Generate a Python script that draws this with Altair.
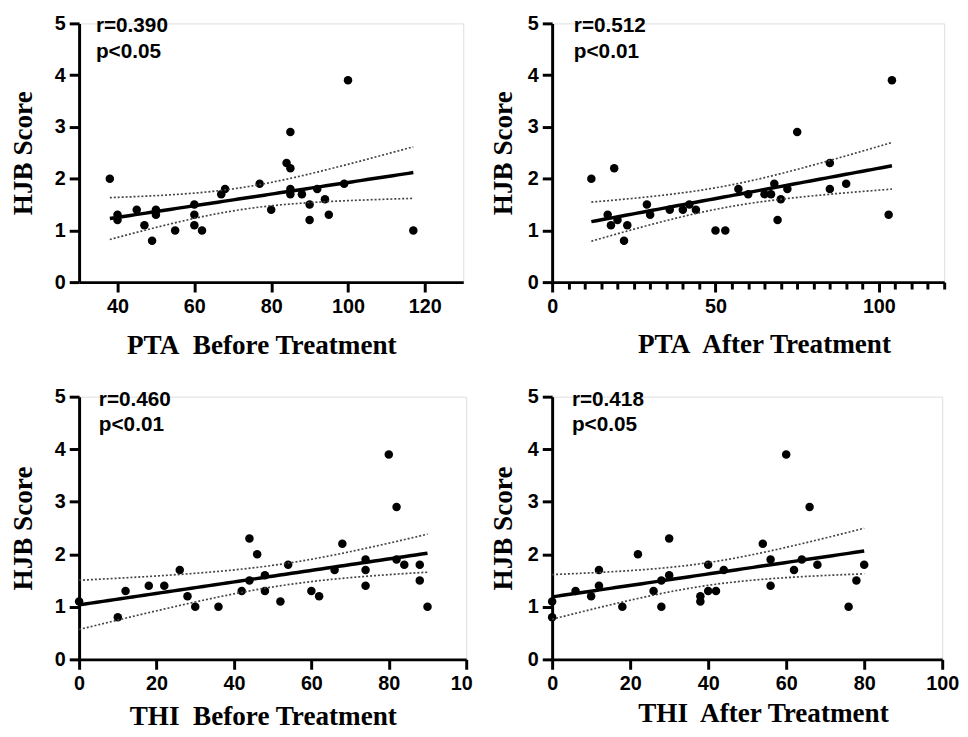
import numpy as np
import pandas as pd
import altair as alt

# ---------------- data ----------------
pta_before_x = [38, 40, 40, 45, 47, 49, 50, 50, 55, 60, 60, 60, 62, 67, 68, 77, 80, 84, 85, 85, 85, 85, 88, 90, 90, 92, 94, 95, 99, 100, 117]
pta_before_y = [2.0, 1.3, 1.2, 1.4, 1.1, 0.8, 1.4, 1.3, 1.0, 1.5, 1.3, 1.1, 1.0, 1.7, 1.8, 1.9, 1.4, 2.3, 2.2, 2.9, 1.8, 1.7, 1.7, 1.5, 1.2, 1.8, 1.6, 1.3, 1.9, 3.9, 1.0]

pta_after_x = [12, 17, 18, 19, 20, 22, 23, 29, 30, 36, 40, 42, 44, 50, 53, 57, 60, 65, 67, 68, 69, 70, 72, 75, 85, 85, 90, 103, 104]
pta_after_y = [2.0, 1.3, 1.1, 2.2, 1.2, 0.8, 1.1, 1.5, 1.3, 1.4, 1.4, 1.5, 1.4, 1.0, 1.0, 1.8, 1.7, 1.7, 1.7, 1.9, 1.2, 1.6, 1.8, 2.9, 2.3, 1.8, 1.9, 1.3, 3.9]

thi_before_x = [0, 10, 12, 18, 22, 26, 28, 30, 36, 42, 44, 44, 46, 48, 48, 52, 54, 60, 62, 66, 68, 74, 74, 74, 80, 82, 82, 84, 88, 88, 90]
thi_before_y = [1.1, 0.8, 1.3, 1.4, 1.4, 1.7, 1.2, 1.0, 1.0, 1.3, 2.3, 1.5, 2.0, 1.6, 1.3, 1.1, 1.8, 1.3, 1.2, 1.7, 2.2, 1.9, 1.7, 1.4, 3.9, 2.9, 1.9, 1.8, 1.8, 1.5, 1.0]

thi_after_x = [0, 0, 6, 10, 12, 12, 18, 22, 26, 28, 28, 30, 30, 38, 38, 40, 40, 42, 44, 54, 56, 56, 60, 62, 64, 66, 68, 76, 78, 80]
thi_after_y = [1.1, 0.8, 1.3, 1.2, 1.7, 1.4, 1.0, 2.0, 1.3, 1.5, 1.0, 2.3, 1.6, 1.2, 1.1, 1.8, 1.3, 1.3, 1.7, 2.2, 1.9, 1.4, 3.9, 1.7, 1.9, 2.9, 1.8, 1.0, 1.5, 1.8]

x_titles = ["PTA\u00a0 Before Treatment", "PTA\u00a0 After Treatment",
            "THI\u00a0 Before Treatment", "THI\u00a0 After Treatment"]
r_labels = ["r=0.390", "r=0.512", "r=0.460", "r=0.418"]
p_labels = ["p<0.05", "p<0.01", "p<0.01", "p<0.05"]
y_title = "HJB Score"
y_ticks = [0, 1, 2, 3, 4, 5]


def t975(df):
    z = 1.959964
    return (z + (z**3 + z) / (4 * df) + (5 * z**5 + 16 * z**3 + 3 * z) / (96 * df**2)
            + (3 * z**7 + 19 * z**5 + 17 * z**3 - 15 * z) / (384 * df**3))


def fit(xv, yv):
    x = np.asarray(xv, float)
    y = np.asarray(yv, float)
    n = len(x)
    b, a = np.polyfit(x, y, 1)
    res = y - (a + b * x)
    s = np.sqrt((res**2).sum() / (n - 2))
    xm = x.mean()
    sxx = ((x - xm) ** 2).sum()
    xs = np.linspace(x.min(), x.max(), 60)
    yh = a + b * xs
    se = s * np.sqrt(1.0 / n + (xs - xm) ** 2 / sxx)
    t = t975(n - 2)
    return pd.DataFrame({"x": xs, "fit": yh, "lo": yh - t * se, "hi": yh + t * se})


LABEL_FONT = "Liberation Sans"
TITLE_FONT = "Liberation Serif"


def panel(xv, yv, xdomain, xvalues, xtitle, rlab, plab, width, height,
          ytitle_pad, xtitle_pad, xtitle_shift, ann_x=20, tick_size=10, label_expr=None,
          label_offset=None):
    pts = pd.DataFrame({"x": xv, "y": yv})
    fd = fit(xv, yv)
    xs = alt.Scale(domain=xdomain, nice=False, zero=False)
    ys = alt.Scale(domain=[0, 5], nice=False, zero=True)
    xaxis_kw = dict(
        values=xvalues, title=xtitle, grid=False,
        titleFont=TITLE_FONT, titleFontSize=27.5, titleFontWeight="bold", titleColor="black",
        titlePadding=xtitle_pad, titleX=width / 2 + xtitle_shift,
        labelFont=LABEL_FONT, labelFontSize=20, labelFontWeight="bold", labelColor="black",
        labelPadding=5, labelFlush=False, labelOverlap=False,
        tickSize=tick_size, tickWidth=3, tickColor="black",
        domainWidth=3, domainColor="black",
    )
    if label_expr:
        xaxis_kw["labelExpr"] = label_expr
    if label_offset is not None:
        xaxis_kw["labelOffset"] = label_offset
    xaxis = alt.Axis(**xaxis_kw)
    yaxis = alt.Axis(
        values=y_ticks, title=y_title, grid=False,
        titleFont=TITLE_FONT, titleFontSize=27.5, titleFontWeight="bold", titleColor="black",
        titlePadding=ytitle_pad,
        labelFont=LABEL_FONT, labelFontSize=20, labelFontWeight="bold", labelColor="black",
        labelPadding=4, labelFlush=False,
        tickSize=10, tickWidth=3, tickColor="black",
        domainWidth=3, domainColor="black",
    )
    X = alt.X("x:Q", scale=xs, axis=xaxis)
    points = alt.Chart(pts).mark_circle(size=74, color="black", opacity=1).encode(
        x=X, y=alt.Y("y:Q", scale=ys, axis=yaxis))
    hi = alt.Chart(fd).mark_line(color="#444", strokeWidth=1.7, strokeDash=[2, 2]).encode(
        x=X, y=alt.Y("hi:Q", scale=ys, axis=yaxis))
    lo = alt.Chart(fd).mark_line(color="#444", strokeWidth=1.7, strokeDash=[2, 2]).encode(
        x=X, y=alt.Y("lo:Q", scale=ys, axis=yaxis))
    line = alt.Chart(fd).mark_line(color="black", strokeWidth=3.5).encode(
        x=X, y=alt.Y("fit:Q", scale=ys, axis=yaxis))
    ann = alt.Chart(pd.DataFrame({"t": [rlab + "\n" + plab]})).mark_text(
        align="left", baseline="alphabetic", font=LABEL_FONT, fontSize=21,
        fontWeight="bold", color="black", lineBreak="\n", lineHeight=26,
    ).encode(text="t:N", x=alt.value(ann_x), y=alt.value(9))
    return alt.layer(points, hi, lo, line, ann).properties(width=width, height=height)


p1 = panel(pta_before_x, pta_before_y, [30, 130], [40, 60, 80, 100, 120],
           x_titles[0], r_labels[0], p_labels[0], 389, 262,
           ytitle_pad=17, xtitle_pad=15, xtitle_shift=-10, ann_x=17)
p2 = panel(pta_after_x, pta_after_y, [0, 120], list(range(0, 121, 5)),
           x_titles[1], r_labels[1], p_labels[1], 397, 262,
           ytitle_pad=10, xtitle_pad=14, xtitle_shift=16, ann_x=22,
           tick_size={"condition": {"test": "datum.value % 50 === 0", "value": 10}, "value": 7},
           label_expr="datum.value % 50 === 0 ? datum.label : ''")
p3 = panel(thi_before_x, thi_before_y, [0, 100], [0, 20, 40, 60, 80, 100],
           x_titles[2], r_labels[2], p_labels[2], 392, 266,
           ytitle_pad=17, xtitle_pad=9, xtitle_shift=-10, ann_x=20,
           label_expr="datum.value == 100 ? '10' : datum.label",
           label_offset={"condition": {"test": "datum.value == 100", "value": -5}, "value": 0})
p4 = panel(thi_after_x, thi_after_y, [0, 100], [0, 20, 40, 60, 80, 100],
           x_titles[3], r_labels[3], p_labels[3], 395, 266,
           ytitle_pad=10, xtitle_pad=6, xtitle_shift=16, ann_x=20)

chart = alt.concat(p1, p2, p3, p4, columns=2,
                   spacing={"row": 116, "column": 87}).properties(
    bounds="flush",
    padding={"left": 1, "top": 0, "right": 0, "bottom": 0},
).configure_view(stroke=None).configure(background="white")

chart.save("out.html", embed_options={"renderer": "svg", "actions": False})
